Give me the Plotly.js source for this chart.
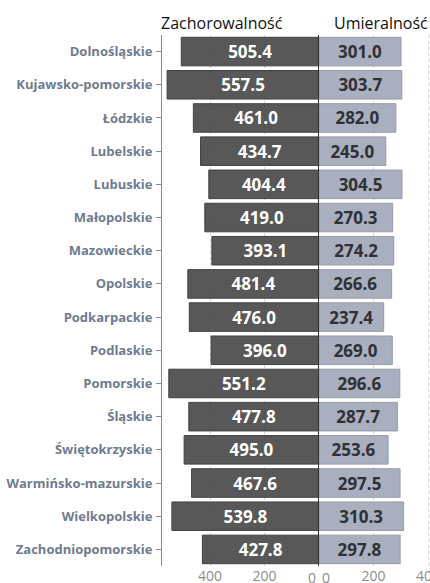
<!DOCTYPE html>
<html>
<head>
<meta charset="utf-8">
<script src="https://cdn.plot.ly/plotly-3.0.1.min.js"></script>
<style>html,body{margin:0;padding:0;background:#fff;}#chart{width:430px;height:583px;}</style>
</head>
<body>
<div id="chart"></div>
<script>
const regions = ["Dolnośląskie","Kujawsko-pomorskie","Łódzkie","Lubelskie","Lubuskie","Małopolskie","Mazowieckie","Opolskie","Podkarpackie","Podlaskie","Pomorskie","Śląskie","Świętokrzyskie","Warmińsko-mazurskie","Wielkopolskie","Zachodniopomorskie"];
const zachorowalnosc = [505.4,557.5,461.0,434.7,404.4,419.0,393.1,481.4,476.0,396.0,551.2,477.8,495.0,467.6,539.8,427.8];
const umieralnosc = [301.0,303.7,282.0,245.0,304.5,270.3,274.2,266.6,237.4,269.0,296.6,287.7,253.6,297.5,310.3,297.8];
const panelTitles = ["Zachorowalność","Umieralność"];
const leftTicks = [400,200];
const rightTicks = [200,400];

const W = 430, H = 583, ML = 162, MR = 0, MT = 35, MB = 17;
const zeroPx = 319;
const plotW = W - ML - MR;
const split = (zeroPx - ML) / plotW;
const pxPerUnit = 109 / 400;

const traces = [
  {
    type: 'bar', orientation: 'h', y: regions, x: zachorowalnosc,
    xaxis: 'x', yaxis: 'y',
    marker: {color: '#474747', opacity: 0.9, line: {color: '#2e2e2e', width: 1}},
    texttemplate: '%{x:.1f}', textposition: 'inside', insidetextanchor: 'middle',
    constraintext: 'none', textangle: 0,
    insidetextfont: {family: 'Open Sans', size: 17, color: '#ffffff', weight: 'bold'},
    hoverinfo: 'none', showlegend: false
  },
  {
    type: 'bar', orientation: 'h', y: regions, x: umieralnosc,
    xaxis: 'x2', yaxis: 'y2',
    marker: {color: '#a0a7b7', opacity: 0.9, line: {color: '#8a91a2', width: 1}},
    texttemplate: '%{x:.1f}', textposition: 'inside', insidetextanchor: 'middle',
    constraintext: 'none', textangle: 0,
    insidetextfont: {family: 'Open Sans', size: 17, color: '#2f3136', weight: 'bold'},
    hoverinfo: 'none', showlegend: false
  }
];

const axisFont = {family: 'Open Sans', size: 14, color: '#8c8c8c'};

const layout = {
  width: W, height: H,
  margin: {l: ML, r: MR, t: MT, b: MB, pad: 0},
  paper_bgcolor: '#ffffff', plot_bgcolor: 'rgba(0,0,0,0)',
  bargap: 0.14,
  xaxis: {
    domain: [0, split], range: [(zeroPx - ML) / pxPerUnit, 0],
    tickvals: leftTicks, ticks: '', showline: false, zeroline: false,
    showgrid: true, gridcolor: '#d4d4d4', griddash: 'dot', gridwidth: 1,
    tickfont: axisFont, anchor: 'y', fixedrange: true, ticklabeloverflow: 'allow'
  },
  xaxis2: {
    domain: [split, 1], range: [0, (W - MR - zeroPx) / pxPerUnit],
    tickvals: rightTicks, ticks: '', showline: false, zeroline: false,
    showgrid: true, gridcolor: '#d4d4d4', griddash: 'dot', gridwidth: 1,
    tickfont: axisFont, anchor: 'y2', fixedrange: true, ticklabeloverflow: 'allow'
  },
  yaxis: {
    domain: [0, 1], type: 'category', categoryorder: 'array', categoryarray: regions,
    autorange: 'reversed', anchor: 'x',
    showline: true, linecolor: '#8a8a8a', linewidth: 1,
    ticks: 'outside', ticklen: 5, tickcolor: '#8a8a8a',
    showgrid: false, zeroline: false,
    tickfont: {family: 'Open Sans', size: 13, color: '#6e7b90', weight: 'bold'},
    ticklabelstandoff: 1
  },
  yaxis2: {
    domain: [0, 1], matches: 'y', anchor: 'x2', type: 'category',
    showline: true, linecolor: '#333333', linewidth: 1,
    showticklabels: false, ticks: '', showgrid: false, zeroline: false
  },
  annotations: [
    {text: panelTitles[0], xref: 'paper', yref: 'paper', x: (222 - ML) / plotW, y: 1,
     xanchor: 'center', yanchor: 'bottom', yshift: -1, showarrow: false,
     font: {family: 'Open Sans', size: 16, color: '#111111'}},
    {text: panelTitles[1], xref: 'paper', yref: 'paper', x: (380.5 - ML) / plotW, y: 1,
     xanchor: 'center', yanchor: 'bottom', yshift: -1, showarrow: false,
     font: {family: 'Open Sans', size: 16, color: '#111111'}},
    {text: '0', xref: 'x', yref: 'paper', x: 0, y: 0, xanchor: 'right', yanchor: 'top',
     xshift: -1, showarrow: false, font: axisFont},
    {text: '0', xref: 'x2', yref: 'paper', x: 0, y: 0, xanchor: 'left', yanchor: 'top',
     xshift: 1, showarrow: false, font: axisFont}
  ]
};

Plotly.newPlot('chart', traces, layout, {displayModeBar: false, staticPlot: true});
</script>
</body>
</html>
